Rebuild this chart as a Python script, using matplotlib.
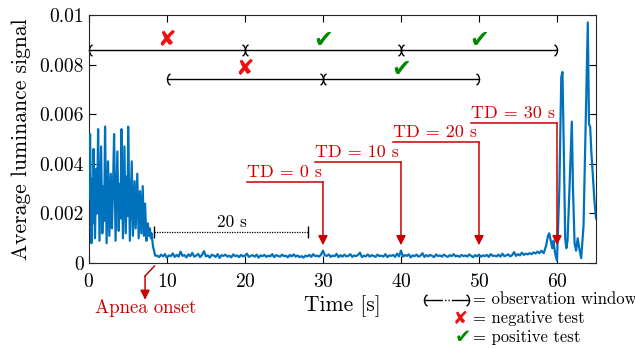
import numpy as np
import matplotlib
matplotlib.use('Agg')
import matplotlib.pyplot as plt
from matplotlib.path import Path

plt.rcParams['font.family'] = 'cmr10'
plt.rcParams['mathtext.fontset'] = 'cm'
plt.rcParams['axes.formatter.use_mathtext'] = True

# --- signal data ---
# breathing before the apnea (time [s], value)
t_early = [0.00, 0.15, 0.32, 0.45, 0.52, 0.60, 0.78, 0.95, 1.05, 1.18, 1.36, 1.56, 1.72,
           1.88, 1.96, 2.07, 2.27, 2.45, 2.62, 2.80, 2.95, 3.08, 3.23, 3.42, 3.65, 3.82,
           3.98, 4.06, 4.17, 4.36, 4.55, 4.72, 4.90, 4.96, 5.03, 5.25, 5.49, 5.65, 5.85,
           6.00, 6.20, 6.38, 6.55, 6.72, 6.90, 7.05, 7.20, 7.38, 7.55, 7.68, 7.82, 7.95,
           8.05, 8.20, 8.35, 8.50]
v_early = [0.0026, 0.0052, 0.0008, 0.0034, 0.0016, 0.0046, 0.0010, 0.0038, 0.0020, 0.0054,
           0.0009, 0.0047, 0.0012, 0.0031, 0.0017, 0.0055, 0.0008, 0.0041, 0.0011, 0.0036,
           0.0014, 0.0029, 0.0052, 0.0009, 0.0045, 0.0013, 0.0032, 0.0018, 0.0054, 0.0010,
           0.0047, 0.0012, 0.0035, 0.0019, 0.0055, 0.0009, 0.0041, 0.0011, 0.0033, 0.0014,
           0.0036, 0.0010, 0.0029, 0.0012, 0.0031, 0.0011, 0.0024, 0.0009, 0.0016, 0.0011,
           0.0014, 0.0010, 0.0012, 0.0007, 0.0005, 0.0003]

# apnea plateau, sampled every 0.25 s from 8.75 s (values x 1e-4)
flat_start = 8.75
flat_step = 0.25
v_flat_e4 = [
    3.0, 2.4, 3.4, 2.7, 3.6, 2.2, 3.1, 2.8, 3.9, 2.5, 3.3, 2.6, 4.6, 2.9,
    3.2, 2.3, 3.5, 2.8, 4.1, 2.6, 3.0, 3.7, 2.4, 3.3, 4.8, 2.7, 3.1, 2.2,
    3.4, 3.0, 2.5, 3.6, 2.1, 3.2, 2.9, 3.4, 2.6, 3.0, 2.3, 3.5, 2.8, 3.1,
    2.4, 3.3, 2.7, 3.0, 3.8, 2.5, 2.9, 3.2, 2.6, 3.4, 2.2, 3.1, 2.8, 3.3,
    2.5, 3.0, 2.7, 3.6, 2.4, 3.2, 2.9, 2.6, 3.4, 2.8, 3.0, 2.3, 3.3, 2.7,
    3.5, 2.6, 3.1, 2.4, 2.8, 2.2, 3.0, 2.7, 3.3, 2.5, 3.6, 2.8, 3.0, 2.6,
    3.4, 5.0, 3.1, 2.9, 3.5, 2.5, 3.0, 2.8, 3.7, 2.4, 3.2, 2.6, 3.4, 2.7,
    2.9, 3.6, 2.5, 3.1, 2.8, 3.3, 4.2, 2.4, 3.0, 2.7, 3.5, 2.6, 3.2, 2.9,
    2.5, 3.4, 2.8, 3.0, 2.6, 3.6, 2.4, 3.1, 2.9, 3.3, 2.5, 3.8, 2.7, 5.0,
    2.6, 3.2, 2.9, 3.5, 2.3, 3.1, 2.8, 3.4, 2.6, 3.0, 4.0, 2.5, 3.2, 2.7,
    3.3, 2.9, 2.4, 3.5, 2.8, 3.1, 2.6, 3.4, 2.9, 2.5, 3.2, 2.8, 3.6, 2.7,
    3.0, 2.5, 3.3, 2.8, 3.1, 2.6, 3.5, 2.9, 2.4, 3.2, 2.7, 3.4, 2.6, 3.1,
    2.8, 3.3, 2.5, 3.6, 2.9, 3.0, 2.7, 3.4, 2.6, 3.8, 2.8, 3.1, 3.5, 2.7,
    3.2, 4.4, 2.9, 3.6, 3.1, 4.2, 3.3, 3.8, 3.5, 4.0, 3.6, 4.3, 3.9, 4.6,
]

# breathing resumes at the end (time [s], value)
t_late = [57.75, 58.0, 58.3, 58.6, 58.85, 59.0, 59.2, 59.4, 59.55, 59.75, 60.0, 60.3,
          60.55, 60.7, 60.85, 61.05, 61.2, 61.35, 61.6, 61.9, 62.05, 62.25, 62.45, 62.65,
          62.85, 63.1, 63.4, 63.7, 63.95, 64.1, 64.25, 64.4, 64.6, 64.8, 65.0]
v_late = [0.0004, 0.0005, 0.0004, 0.0007, 0.0011, 0.0012, 0.0009, 0.0006, 0.0009, 0.0004,
          0.0001, 0.0030, 0.0075, 0.0077, 0.0050, 0.0010, 0.0006, 0.0009, 0.0030, 0.0057,
          0.0030, 0.0008, 0.0005, 0.0010, 0.0006, 0.0002, 0.0015, 0.0060, 0.0097, 0.0056,
          0.0055, 0.0045, 0.0035, 0.0025, 0.0018]

# --- annotations ---
windows_row1 = [(0, 20), (20, 40), (40, 60)]
results_row1 = [False, True, True]
windows_row2 = [(10, 30), (30, 50)]
results_row2 = [False, True]
td_labels = ['TD = 0 s', 'TD = 10 s', 'TD = 20 s', 'TD = 30 s']
td_times = [30, 40, 50, 60]
td_starts = [20.3, 29.0, 39.0, 49.0]
td_levels = [0.00327, 0.00407, 0.00488, 0.00565]

blue = '#0072BD'
red = '#cc0000'
xred = '#ee1111'
green = '#008a00'

t_flat = [flat_start + flat_step * i for i in range(len(v_flat_e4))]
v_flat = [v * 1e-4 for v in v_flat_e4]
t_all = t_early + t_flat + t_late
v_all = v_early + v_flat + v_late

fig = plt.figure(figsize=(6.35, 3.48), dpi=100)
ax = fig.add_axes([0.140, 0.244, 0.7986, 0.713])
ax.plot(t_all, v_all, color=blue, lw=1.6, zorder=3)

ax.set_xlim(0, 65)
ax.set_ylim(0, 0.01)
ax.set_xticks([0, 10, 20, 30, 40, 50, 60])
ax.set_yticks([0, 0.002, 0.004, 0.006, 0.008, 0.01])
ax.set_yticklabels(['0', '0.002', '0.004', '0.006', '0.008', '0.01'])
ax.tick_params(direction='in', top=True, right=True, labelsize=14, length=5, width=0.8)
ax.tick_params(axis='x', pad=7)
for s in ax.spines.values():
    s.set_linewidth(0.8)
    s.set_color('#262626')
ax.set_xlabel('Time [s]', fontsize=15.5)
ax.set_ylabel('Average luminance signal', fontsize=15.5)
ax.xaxis.set_label_coords(0.5, -0.13)
ax.yaxis.set_label_coords(-0.115, 0.5)

# curved arrow-head markers, rounded like a parenthesis
def hook(right=True):
    s = 1 if right else -1
    verts = [(-0.55 * s, 1), (-0.02 * s, 0.8), (0, 0), (-0.02 * s, -0.8), (-0.55 * s, -1)]
    codes = [Path.MOVETO, Path.CURVE3, Path.CURVE3, Path.CURVE3, Path.CURVE3]
    return Path(verts, codes)

hook_r = hook(True)
hook_l = hook(False)

def window(a, b, y):
    ax.plot([a, b], [y, y], lw=1, color='k', clip_on=False)
    ax.plot([a], [y], marker=hook_l, ms=8, mew=1, mfc='none', ls='none', color='k', clip_on=False)
    ax.plot([b], [y], marker=hook_r, ms=8, mew=1, mfc='none', ls='none', color='k', clip_on=False)

def mark(x, y, ok, size=17, transform=None):
    kw = {} if transform is None else dict(transform=transform)
    if ok:
        ax.text(x, y, '\u2714', color=green, fontsize=size, family='DejaVu Sans',
                ha='center', va='center', clip_on=False, **kw)
    else:
        ax.text(x, y, '\u2718', color=xred, fontsize=size - 1, family='DejaVu Sans',
                ha='center', va='center', clip_on=False, **kw)

for (a, b), ok in zip(windows_row1, results_row1):
    window(a, b, 0.0086)
    mark((a + b) / 2, 0.0090, ok)
for (a, b), ok in zip(windows_row2, results_row2):
    window(a, b, 0.00742)
    mark((a + b) / 2, 0.00782, ok)

# time-delay arrows
for lab, tx, x0, lev in zip(td_labels, td_times, td_starts, td_levels):
    ax.plot([x0, tx], [lev, lev], color=red, lw=1.1)
    ax.annotate('', xy=(tx, 0.00072), xytext=(tx, lev),
                arrowprops=dict(arrowstyle='-|>', color=red, lw=1.1,
                                mutation_scale=14, shrinkA=0, shrinkB=0))
    ax.text(x0, lev + 0.00007, lab, color=red, fontsize=13, ha='left', va='bottom')

# 20 s bracket
ax.plot([8.4, 28.1], [0.00125, 0.00125], color='k', ls=(0, (1, 1)), lw=0.9)
ax.plot([8.4, 28.1], [0.00125, 0.00125], color='k', ls='none', marker='|', ms=9, mew=1)
ax.text(18.3, 0.00132, '20 s', fontsize=12.5, ha='center', va='bottom')

# apnea onset
ax.plot([8.4, 7.2], [-0.00012, -0.00052], color=red, lw=1.1, clip_on=False)
ax.annotate('', xy=(7.2, -0.00148), xytext=(7.2, -0.00052), annotation_clip=False,
            arrowprops=dict(arrowstyle='-|>', color=red, lw=1.1, mutation_scale=14,
                            shrinkA=0, shrinkB=0))
ax.text(7.3, -0.0018, 'Apnea onset', color=red, fontsize=13.5, ha='center', va='center',
        clip_on=False)

# legend below the axes
ta = ax.transAxes
ly = [-0.147, -0.224, -0.300]
ax.plot([0.660, 0.695], [ly[0], ly[0]], color='k', lw=1, transform=ta, clip_on=False)
ax.plot([0.695, 0.718], [ly[0], ly[0]], color='k', lw=1, ls=(0, (1, 1.5)),
        transform=ta, clip_on=False)
ax.plot([0.718, 0.750], [ly[0], ly[0]], color='k', lw=1, transform=ta, clip_on=False)
ax.plot([0.660], [ly[0]], marker=hook_l, ms=8, mew=1, mfc='none', color='k',
        transform=ta, clip_on=False)
ax.plot([0.750], [ly[0]], marker=hook_r, ms=8, mew=1, mfc='none', color='k',
        transform=ta, clip_on=False)
ax.text(0.757, ly[0], '= observation window', transform=ta, fontsize=12,
        ha='left', va='center')
mark(0.733, ly[1], False, size=14, transform=ta)
ax.text(0.757, ly[1], '= negative test', transform=ta, fontsize=12, ha='left', va='center')
mark(0.737, ly[2], True, size=14, transform=ta)
ax.text(0.757, ly[2], '= positive test', transform=ta, fontsize=12, ha='left', va='center')

fig.savefig('out.png', dpi=100)
